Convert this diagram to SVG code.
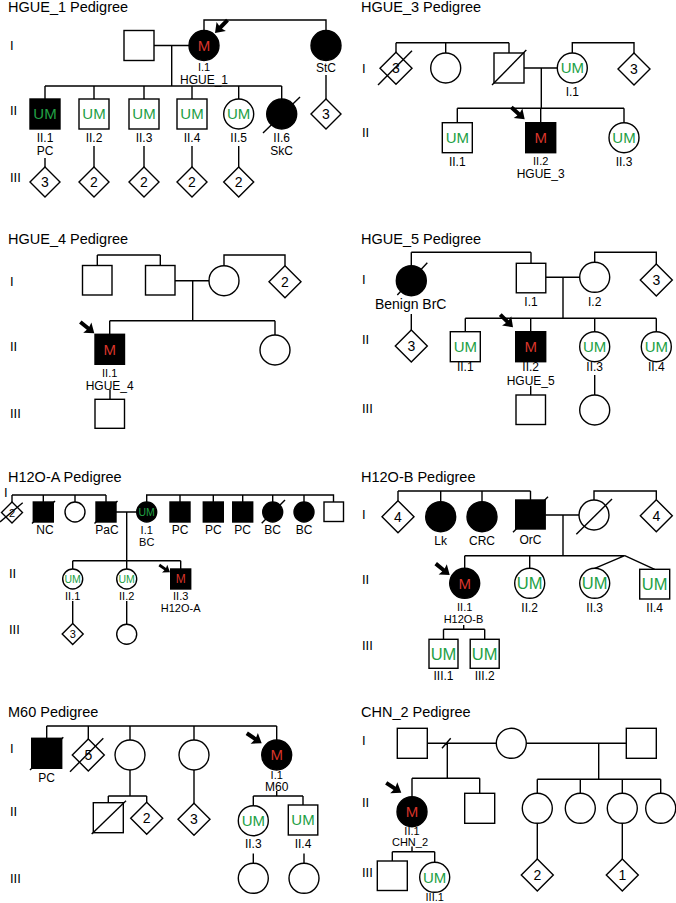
<svg xmlns="http://www.w3.org/2000/svg" xmlns:xlink="http://www.w3.org/1999/xlink" width="676" height="903" viewBox="0 0 676 903">
<style>
text{font-family:"Liberation Sans",Arial,sans-serif;fill:#000}
.ti{font-size:14.5px}
.gn{font-size:13px}
.lb{font-size:12px;text-anchor:middle}
.lt{font-size:11px;text-anchor:middle}
.bb{font-size:14px;text-anchor:middle}
.m{font-size:15px;text-anchor:middle;fill:#d8342a}
.u{font-size:15px;text-anchor:middle;fill:#22a045}
.us{font-size:10.5px;text-anchor:middle;fill:#22a045}
.ms{font-size:12px;text-anchor:middle;fill:#d8342a}
.ub{font-size:16.5px;text-anchor:middle;fill:#22a045}
.n{font-size:14px;text-anchor:middle}
.ns{font-size:11px;text-anchor:middle}
.o{fill:#fff;stroke:#000;stroke-width:1.4}
.f{fill:#000;stroke:#000;stroke-width:1.4}
.ln{fill:none;stroke:#000;stroke-width:1.4}
</style>
<defs>
<path id="ar" d="M0,0 L-9,-6.5 L-8,-2 L-18,-2 L-18,2 L-8,2 L-9,6.5 Z" fill="#000"/>
</defs>

<!-- ================= HGUE_1 ================= -->
<g id="HGUE_1">
<text class="ti" x="8" y="12">HGUE_1 Pedigree</text>
<text class="gn" x="10" y="49.5">I</text>
<text class="gn" x="10" y="114.5">II</text>
<text class="gn" x="10" y="181.5">III</text>
<g id="hgue1-conn">
<path class="ln" d="M154,45.5H189 M171.7,45.5V86 M45,86H281.7 M45,86V99 M94,86V99 M144,86V99 M192,86V99 M238.7,86V99 M281.7,86V99 M204,30.5V20H326V30.5 M45,158V167 M94,146V167 M144,146V167 M192,146V167 M238.7,146V167 M326,75V99"/>
</g>
<g id="hgue1-I-m"><rect class="o" x="124" y="30.5" width="30" height="30"/></g>
<g id="hgue1-I1"><circle class="f" cx="204" cy="45.5" r="15"/><text class="m" x="204" y="50.9">M</text><text class="lt" x="204" y="71">I.1</text><text class="lb" x="204" y="84">HGUE_1</text></g>
<g id="hgue1-StC"><circle class="f" cx="326" cy="45.5" r="15"/><text class="lb" x="326" y="71.7">StC</text></g>
<g id="hgue1-StC-c"><polygon class="o" points="326,99 341,114 326,129 311,114"/><text class="n" x="326" y="119">3</text></g>
<g id="hgue1-II1"><rect class="f" x="30" y="99" width="30" height="30"/><text class="u" x="45" y="119.4">UM</text><text class="lb" x="45" y="141.7">II.1</text><text class="lb" x="45" y="155">PC</text></g>
<g id="hgue1-II2"><rect class="o" x="79" y="99" width="30" height="30"/><text class="u" x="94" y="119.4">UM</text><text class="lb" x="94" y="141.7">II.2</text></g>
<g id="hgue1-II3"><rect class="o" x="129" y="99" width="30" height="30"/><text class="u" x="144" y="119.4">UM</text><text class="lb" x="144" y="141.7">II.3</text></g>
<g id="hgue1-II4"><rect class="o" x="177" y="99" width="30" height="30"/><text class="u" x="192" y="119.4">UM</text><text class="lb" x="192" y="141.7">II.4</text></g>
<g id="hgue1-II5"><circle class="o" cx="238.7" cy="114" r="15"/><text class="u" x="238.7" y="119.4">UM</text><text class="lb" x="238.7" y="141.7">II.5</text></g>
<g id="hgue1-II6"><circle class="f" cx="281.7" cy="114" r="15"/><line class="ln" x1="263" y1="133" x2="300" y2="97"/><text class="lb" x="281.7" y="141.7">II.6</text><text class="lb" x="281.7" y="155">SkC</text></g>
<g id="hgue1-III1"><polygon class="o" points="45,167 60,182 45,197 30,182"/><text class="n" x="45" y="187">3</text></g>
<g id="hgue1-III2"><polygon class="o" points="94,167 109,182 94,197 79,182"/><text class="n" x="94" y="187">2</text></g>
<g id="hgue1-III3"><polygon class="o" points="144,167 159,182 144,197 129,182"/><text class="n" x="144" y="187">2</text></g>
<g id="hgue1-III4"><polygon class="o" points="192,167 207,182 192,197 177,182"/><text class="n" x="192" y="187">2</text></g>
<g id="hgue1-III5"><polygon class="o" points="238.7,167 253.7,182 238.7,197 223.7,182"/><text class="n" x="238.7" y="187">2</text></g>
<use href="#ar" transform="translate(215,33) rotate(134)"/>
</g>

<!-- ================= HGUE_3 ================= -->
<g id="HGUE_3">
<text class="ti" x="361" y="12">HGUE_3 Pedigree</text>
<text class="gn" x="362" y="72.7">I</text>
<text class="gn" x="362" y="136.7">II</text>
<g id="hgue3-conn">
<path class="ln" d="M396,42.7H509 M396,42.7V52.3 M445.7,42.7V53 M509,42.7V53 M524,68H557.3 M541.3,68V108.3 M457.3,108.3H624 M457.3,108.3V122.7 M540.7,108.3V122.7 M624,108.3V122.7 M572.3,53V42.7H634V53"/>
</g>
<g id="hgue3-I-d"><polygon class="o" points="396,52.3 412,68.3 396,84.3 380,68.3"/><text class="n" x="396" y="73.3">3</text><line class="ln" x1="378" y1="85" x2="412" y2="50.7"/></g>
<g id="hgue3-I-c"><circle class="o" cx="445.7" cy="68" r="15"/></g>
<g id="hgue3-I-s"><rect class="o" x="494" y="53" width="30" height="30"/><line class="ln" x1="492" y1="85" x2="526.3" y2="50"/></g>
<g id="hgue3-I1"><circle class="o" cx="572.3" cy="68" r="15"/><text class="u" x="572.3" y="73.4">UM</text><text class="lb" x="572.3" y="95.7">I.1</text></g>
<g id="hgue3-I-r"><polygon class="o" points="634,53 650,69 634,85 618,69"/><text class="n" x="634" y="74">3</text></g>
<g id="hgue3-II1"><rect class="o" x="442.3" y="122.7" width="30" height="30"/><text class="u" x="457.3" y="143.1">UM</text><text class="lb" x="457.3" y="165.7">II.1</text></g>
<g id="hgue3-II2"><rect class="f" x="525.7" y="122.7" width="30" height="30"/><text class="m" x="540.7" y="143.1">M</text><text class="lt" x="540.7" y="165">II.2</text><text class="lb" x="540.7" y="178">HGUE_3</text></g>
<g id="hgue3-II3"><circle class="o" cx="624" cy="137.7" r="15"/><text class="u" x="624" y="143.1">UM</text><text class="lb" x="624" y="165.7">II.3</text></g>
<use href="#ar" transform="translate(524.7,119.3) rotate(42)"/>
</g>

<!-- ================= HGUE_4 ================= -->
<g id="HGUE_4">
<text class="ti" x="8" y="244">HGUE_4 Pedigree</text>
<text class="gn" x="10" y="286">I</text>
<text class="gn" x="10" y="351">II</text>
<text class="gn" x="10" y="417.7">III</text>
<g id="hgue4-conn">
<path class="ln" d="M97.3,255H160.3 M97.3,255V265.5 M160.3,255V265.5 M175,280.7H209 M224,265.7V255H285V265.7 M192.7,280.7V320.7 M109.7,320.7H275 M109.7,320.7V334.3 M275,320.7V335 M110,389.5V399.3"/>
</g>
<g id="hgue4-I-s1"><rect class="o" x="82.5" y="265.5" width="29.5" height="29.5"/></g>
<g id="hgue4-I-s2"><rect class="o" x="145.5" y="265.5" width="29.5" height="29.5"/></g>
<g id="hgue4-I-c"><circle class="o" cx="224" cy="280.7" r="15"/></g>
<g id="hgue4-I-d"><polygon class="o" points="285,265.7 301,281.7 285,297.7 269,281.7"/><text class="n" x="285" y="286.7">2</text></g>
<g id="hgue4-II1"><rect class="f" x="95" y="334.3" width="29.5" height="30"/><text class="m" x="109.7" y="354.7">M</text><text class="lt" x="109.7" y="377">II.1</text><text class="lb" x="109.7" y="389.5">HGUE_4</text></g>
<g id="hgue4-II-c"><circle class="o" cx="275" cy="350" r="15"/></g>
<g id="hgue4-III"><rect class="o" x="95" y="399.3" width="29.5" height="29"/></g>
<use href="#ar" transform="translate(94.3,333.3) rotate(39)"/>
</g>

<!-- ================= HGUE_5 ================= -->
<g id="HGUE_5">
<text class="ti" x="361" y="244">HGUE_5 Pedigree</text>
<text class="gn" x="362" y="284">I</text>
<text class="gn" x="362" y="344.3">II</text>
<text class="gn" x="362" y="412.7">III</text>
<g id="hgue5-conn">
<path class="ln" d="M411.3,252.3H531 M411.3,252.3V265.7 M531,252.3V263.3 M411.3,314V330 M545.8,277.3H579.7 M594.7,262.3V252.3H656.3V264 M563,277.3V318.3 M465.3,318.3H656.3 M465.3,318.3V331.7 M530.7,318.3V331.7 M594.7,318.3V331.7 M656.3,318.3V331.7 M530.7,386V395 M594.7,375V395"/>
</g>
<g id="hgue5-BrC"><circle class="f" cx="411.3" cy="280.7" r="15"/><line class="ln" x1="397.3" y1="295" x2="427.3" y2="262.7"/><text class="bb" x="410.7" y="309.3">Benign BrC</text></g>
<g id="hgue5-BrC-c"><polygon class="o" points="411.3,330 427.3,346 411.3,362 395.3,346"/><text class="n" x="411.3" y="351">3</text></g>
<g id="hgue5-I1"><rect class="o" x="516.3" y="263.3" width="29.5" height="29.5"/><text class="lb" x="531" y="306">I.1</text></g>
<g id="hgue5-I2"><circle class="o" cx="594.7" cy="277.3" r="15"/><text class="lb" x="594.7" y="306">I.2</text></g>
<g id="hgue5-I-d"><polygon class="o" points="656.3,264 672.3,280 656.3,296 640.3,280"/><text class="n" x="656.3" y="285">3</text></g>
<g id="hgue5-II1"><rect class="o" x="450.3" y="331.7" width="30" height="30"/><text class="u" x="465.3" y="352.1">UM</text><text class="lb" x="465.3" y="370.7">II.1</text></g>
<g id="hgue5-II2"><rect class="f" x="515.7" y="331.7" width="30" height="30"/><text class="m" x="530.7" y="352.1">M</text><text class="lb" x="530.7" y="370.7">II.2</text><text class="lb" x="530.7" y="385">HGUE_5</text></g>
<g id="hgue5-II3"><circle class="o" cx="594.7" cy="346.7" r="15"/><text class="u" x="594.7" y="352.1">UM</text><text class="lb" x="594.7" y="370.7">II.3</text></g>
<g id="hgue5-II4"><circle class="o" cx="656.3" cy="346.7" r="15"/><text class="u" x="656.3" y="352.1">UM</text><text class="lb" x="656.3" y="370.7">II.4</text></g>
<g id="hgue5-III-s"><rect class="o" x="516" y="395" width="29.5" height="29.5"/></g>
<g id="hgue5-III-c"><circle class="o" cx="594.7" cy="410" r="15"/></g>
<use href="#ar" transform="translate(513,327.3) rotate(45)"/>
</g>

<!-- ================= H12O-A ================= -->
<g id="H12O-A">
<text class="ti" x="8" y="481.7">H12O-A Pedigree</text>
<text class="gn" x="4" y="496.7">I</text>
<text class="gn" x="9" y="578.3">II</text>
<text class="gn" x="9" y="634">III</text>
<g id="h12oa-conn">
<path class="ln" d="M12,495H106 M12,495V502 M43.3,495V502 M75,495V502 M106,495V502 M116,512H136.7 M126.7,512V560.7 M146.7,502V495H333.5V502 M180,495V502 M213.3,495V502 M242.7,495V502 M272.7,495V502 M304,495V502 M72.7,560.7H180.7 M72.7,560.7V569 M126.7,560.7V569 M180.7,560.7V569 M72.7,601V623.5 M126.7,601V624.3"/>
</g>
<g id="h12oa-I-d"><polygon class="o" points="12,502 22.5,512.5 12,523 1.5,512.5"/><text class="ns" x="12" y="516.5">2</text><line class="ln" x1="0" y1="522" x2="22.7" y2="502.7"/></g>
<g id="h12oa-NC"><rect class="f" x="33.3" y="502" width="20" height="20"/><line class="ln" x1="32" y1="523.5" x2="55" y2="501"/><text class="lb" x="45" y="534.3">NC</text></g>
<g id="h12oa-I-c"><circle class="o" cx="75" cy="512" r="10"/></g>
<g id="h12oa-PaC"><rect class="f" x="96" y="502" width="20" height="20"/><line class="ln" x1="94.5" y1="523.5" x2="117.5" y2="501"/><text class="lb" x="107" y="534.3">PaC</text></g>
<g id="h12oa-I1"><circle class="f" cx="146.7" cy="512" r="10"/><text class="us" x="146.7" y="515.8">UM</text><text class="lt" x="146.7" y="533.5">I.1</text><text class="lt" x="146.7" y="545.5">BC</text></g>
<g id="h12oa-PC1"><rect class="f" x="170" y="502" width="20" height="20"/><text class="lb" x="180" y="534.3">PC</text></g>
<g id="h12oa-PC2"><rect class="f" x="203.3" y="502" width="20" height="20"/><text class="lb" x="213.3" y="534.3">PC</text></g>
<g id="h12oa-PC3"><rect class="f" x="232.7" y="502" width="20" height="20"/><text class="lb" x="242.7" y="534.3">PC</text></g>
<g id="h12oa-BC1"><circle class="f" cx="272.7" cy="512" r="10"/><line class="ln" x1="261.7" y1="523.3" x2="285" y2="500"/><text class="lb" x="272.7" y="534.3">BC</text></g>
<g id="h12oa-BC2"><circle class="f" cx="304" cy="512" r="10"/><text class="lb" x="304" y="534.3">BC</text></g>
<g id="h12oa-I-s"><rect class="o" x="324" y="502" width="19.5" height="19.5"/></g>
<g id="h12oa-II1"><circle class="o" cx="72.7" cy="579" r="10"/><text class="us" x="72.7" y="582.8">UM</text><text class="lt" x="72.7" y="600">II.1</text></g>
<g id="h12oa-II2"><circle class="o" cx="126.7" cy="579" r="10"/><text class="us" x="126.7" y="582.8">UM</text><text class="lt" x="126.7" y="600">II.2</text></g>
<g id="h12oa-II3"><rect class="f" x="170.7" y="569" width="20" height="20"/><text class="ms" x="180.7" y="583.3">M</text><text class="lt" x="180.7" y="599.5">II.3</text><text class="lt" x="180.7" y="612">H12O-A</text></g>
<g id="h12oa-III-d"><polygon class="o" points="72.7,623.5 83.2,634 72.7,644.5 62.2,634"/><text class="ns" x="72.7" y="638">3</text></g>
<g id="h12oa-III-c"><circle class="o" cx="126.7" cy="634.3" r="10"/></g>
<use href="#ar" transform="translate(170,572.3) rotate(34) scale(0.72)"/>
</g>

<!-- ================= H12O-B ================= -->
<g id="H12O-B">
<text class="ti" x="361" y="481.7">H12O-B Pedigree</text>
<text class="gn" x="362" y="519.3">I</text>
<text class="gn" x="362" y="583.7">II</text>
<text class="gn" x="362" y="650">III</text>
<g id="h12ob-conn">
<path class="ln" d="M398,491H530.5 M398,491V500.7 M440.7,491V501.7 M482,491V501.7 M530.5,491V500 M545.3,515H579 M594,500V491H656.3V499.7 M563,515V555.7 M464.7,555.7H624.7 M464.7,555.7V568.3 M529.7,555.7V568.3 M624.7,555.7L594.7,568.3 M624.7,555.7L654.7,569.3 M463.7,625V629.3 M443.5,629.3H484.7 M443.5,629.3V639.3 M484.7,629.3V639.3"/>
</g>
<g id="h12ob-I-d1"><polygon class="o" points="398,500.7 414,516.7 398,532.7 382,516.7"/><text class="n" x="398" y="521.7">4</text></g>
<g id="h12ob-Lk"><circle class="f" cx="440.7" cy="516.7" r="15"/><text class="lb" x="440.7" y="545">Lk</text></g>
<g id="h12ob-CRC"><circle class="f" cx="482" cy="516.7" r="15"/><text class="lb" x="482" y="545">CRC</text></g>
<g id="h12ob-OrC"><rect class="f" x="515.7" y="500" width="29.5" height="29"/><line class="ln" x1="513" y1="532.3" x2="548" y2="496.7"/><text class="lb" x="530.5" y="544">OrC</text></g>
<g id="h12ob-I-c"><circle class="o" cx="594" cy="515" r="15"/><line class="ln" x1="576.3" y1="534.3" x2="612" y2="499"/></g>
<g id="h12ob-I-d2"><polygon class="o" points="656.3,499.7 672.3,515.7 656.3,531.7 640.3,515.7"/><text class="n" x="656.3" y="520.7">4</text></g>
<g id="h12ob-II1"><circle class="f" cx="464.7" cy="583.3" r="15"/><text class="m" x="464.7" y="588.7">M</text><text class="lt" x="464.7" y="611">II.1</text><text class="lt" x="463.5" y="623">H12O-B</text></g>
<g id="h12ob-II2"><circle class="o" cx="529.7" cy="583.3" r="15"/><text class="ub" x="529.7" y="589.2">UM</text><text class="lb" x="529.7" y="611.7">II.2</text></g>
<g id="h12ob-II3"><circle class="o" cx="594.7" cy="583.3" r="15"/><text class="ub" x="594.7" y="589.2">UM</text><text class="lb" x="594.7" y="611.7">II.3</text></g>
<g id="h12ob-II4"><rect class="o" x="639.7" y="569.3" width="30" height="29.7"/><text class="ub" x="654.7" y="590">UM</text><text class="lb" x="654.7" y="611.7">II.4</text></g>
<g id="h12ob-III1"><rect class="o" x="429" y="639.3" width="29" height="29"/><text class="ub" x="443.5" y="659.8">UM</text><text class="lb" x="443.5" y="680">III.1</text></g>
<g id="h12ob-III2"><rect class="o" x="470.2" y="639.3" width="29" height="29"/><text class="ub" x="484.7" y="659.8">UM</text><text class="lb" x="484.7" y="680">III.2</text></g>
<use href="#ar" transform="translate(449.7,575) rotate(39)"/>
</g>

<!-- ================= M60 ================= -->
<g id="M60">
<text class="ti" x="8" y="717.3">M60 Pedigree</text>
<text class="gn" x="10" y="752.7">I</text>
<text class="gn" x="10" y="816">II</text>
<text class="gn" x="10" y="882.7">III</text>
<g id="m60-conn">
<path class="ln" d="M46.7,726H276.7 M46.7,726V738.3 M88.3,726V739 M130,726V740 M194,726V740 M276.7,726V740 M130,770V796 M108.3,796H146.7 M108.3,796V802.7 M146.7,796V802.3 M194,770V803.3 M276.7,791V796 M253.3,796H303 M253.3,796V805.7 M303,796V805 M253.3,853.5V863.3 M304,853.5V863.3"/>
</g>
<g id="m60-PC"><rect class="f" x="31.7" y="738.3" width="30" height="30"/><line class="ln" x1="30" y1="770" x2="63.3" y2="737.3"/><text class="lb" x="46.7" y="781.7">PC</text></g>
<g id="m60-I-d"><polygon class="o" points="88.3,739 104.3,755 88.3,771 72.3,755"/><text class="n" x="88.3" y="760">5</text><line class="ln" x1="70" y1="771.7" x2="103.3" y2="738.3"/></g>
<g id="m60-I-c1"><circle class="o" cx="130" cy="755" r="15"/></g>
<g id="m60-I-c2"><circle class="o" cx="194" cy="755" r="15"/></g>
<g id="m60-I1"><circle class="f" cx="276.7" cy="755" r="15"/><text class="m" x="276.7" y="760.4">M</text><text class="lt" x="276.7" y="778.8">I.1</text><text class="lb" x="276.7" y="790.7">M60</text></g>
<g id="m60-II-s"><rect class="o" x="93.3" y="802.7" width="30" height="30"/><line class="ln" x1="91.7" y1="834" x2="126" y2="800.7"/></g>
<g id="m60-II-d2"><polygon class="o" points="146.7,802.3 162.7,818.3 146.7,834.3 130.7,818.3"/><text class="n" x="146.7" y="823.3">2</text></g>
<g id="m60-II-d3"><polygon class="o" points="194,803.3 210,819.3 194,835.3 178,819.3"/><text class="n" x="194" y="824.3">3</text></g>
<g id="m60-II3"><circle class="o" cx="253.3" cy="820.7" r="15"/><text class="u" x="253.3" y="826.1">UM</text><text class="lb" x="253.3" y="848.3">II.3</text></g>
<g id="m60-II4"><rect class="o" x="288.3" y="805" width="29.5" height="30"/><text class="u" x="303" y="825.4">UM</text><text class="lb" x="303" y="848.3">II.4</text></g>
<g id="m60-III-c1"><circle class="o" cx="253.3" cy="878.3" r="15"/></g>
<g id="m60-III-c2"><circle class="o" cx="304" cy="878.3" r="15"/></g>
<use href="#ar" transform="translate(261.7,743.3) rotate(34)"/>
</g>

<!-- ================= CHN_2 ================= -->
<g id="CHN_2">
<text class="ti" x="361" y="716.7">CHN_2 Pedigree</text>
<text class="gn" x="362" y="745">I</text>
<text class="gn" x="362" y="806.7">II</text>
<text class="gn" x="362" y="876.7">III</text>
<g id="chn2-conn">
<path class="ln" d="M427.3,743.3H496.3 M526.3,743.3H626.3 M442,748.3L450.7,738.3 M447.3,743.3V778.3 M412,778.3H479.7 M412,778.3V796.7 M479.7,778.3V793.3 M412,846.5V851.7 M392.3,851.7H434.7 M392.3,851.7V861 M434.7,851.7V862.3 M598.7,743.3V779.3 M537.3,779.3H660.7 M537.3,779.3V793.3 M580.3,779.3V793.3 M622.3,779.3V793.3 M660.7,779.3V793.3 M537.3,823.3V859 M622.3,823.3V859"/>
</g>
<g id="chn2-I-s1"><rect class="o" x="397.3" y="728.3" width="30" height="30"/></g>
<g id="chn2-I-c"><circle class="o" cx="511.3" cy="743.3" r="15"/></g>
<g id="chn2-I-s2"><rect class="o" x="626.3" y="728.3" width="30" height="30"/></g>
<g id="chn2-II1"><circle class="f" cx="412" cy="811.7" r="15"/><text class="m" x="412" y="817.1">M</text><text class="lt" x="412" y="834.5">II.1</text><text class="lt" x="410" y="846">CHN_2</text></g>
<g id="chn2-II-s"><rect class="o" x="464.7" y="793.3" width="30" height="30"/></g>
<g id="chn2-II-c1"><circle class="o" cx="537.3" cy="808.3" r="15"/></g>
<g id="chn2-II-c2"><circle class="o" cx="580.3" cy="808.3" r="15"/></g>
<g id="chn2-II-c3"><circle class="o" cx="622.3" cy="808.3" r="15"/></g>
<g id="chn2-II-c4"><circle class="o" cx="660.7" cy="808.3" r="15"/></g>
<g id="chn2-III-s"><rect class="o" x="377.3" y="861" width="30" height="29.5"/></g>
<g id="chn2-III1"><circle class="o" cx="434.7" cy="877.3" r="15"/><text class="u" x="434.7" y="882.7">UM</text><text class="lt" x="434.7" y="900.5">III.1</text></g>
<g id="chn2-III-d2"><polygon class="o" points="537.3,859 553.3,875 537.3,891 521.3,875"/><text class="n" x="537.3" y="880">2</text></g>
<g id="chn2-III-d1"><polygon class="o" points="622.3,859 638.3,875 622.3,891 606.3,875"/><text class="n" x="622.3" y="880">1</text></g>
<use href="#ar" transform="translate(401.3,792.7) rotate(33)"/>
</g>
</svg>
